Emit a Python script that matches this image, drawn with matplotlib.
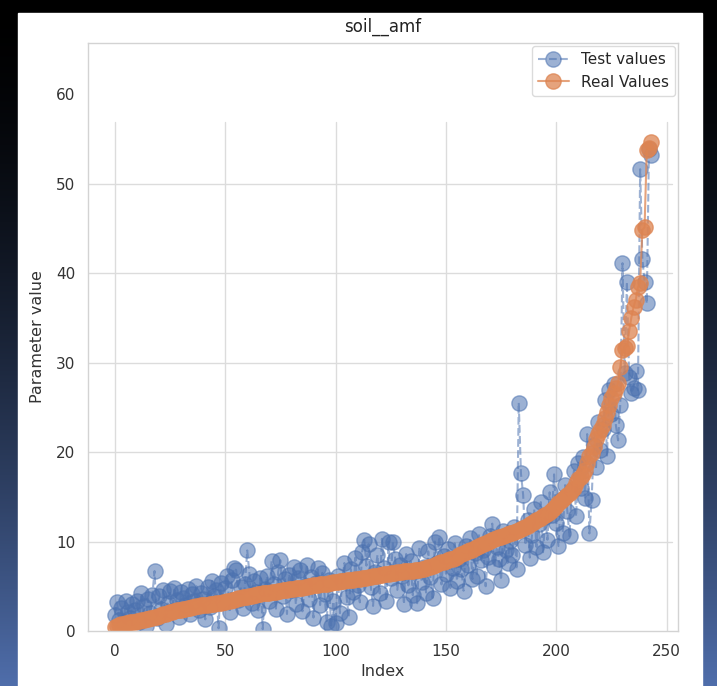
# График сравнения тестовых и реальных значений параметра soil__amf

import numpy as np
import matplotlib.pyplot as plt
import seaborn as sns

# реальные значения параметра (отсортированы по возрастанию)
real_values = [
    0.5, 0.6, 0.7, 0.75, 0.8, 0.85, 0.9, 0.95, 1.0, 1.05,
    1.1, 1.15, 1.2, 1.25, 1.3, 1.35, 1.4, 1.5, 1.55, 1.6,
    1.7, 1.8, 1.9, 1.95, 2.0, 2.1, 2.15, 2.2, 2.3, 2.35,
    2.4, 2.45, 2.5, 2.55, 2.6, 2.65, 2.7, 2.75, 2.8, 2.85,
    2.9, 2.9, 2.95, 3.0, 3.0, 3.05, 3.1, 3.1, 3.15, 3.2,
    3.25, 3.3, 3.4, 3.45, 3.5, 3.6, 3.65, 3.7, 3.75, 3.8,
    3.85, 3.9, 3.95, 4.0, 4.05, 4.1, 4.15, 4.2, 4.2, 4.25,
    4.3, 4.35, 4.4, 4.4, 4.45, 4.5, 4.55, 4.6, 4.6, 4.65,
    4.7, 4.7, 4.75, 4.8, 4.8, 4.85, 4.9, 4.95, 5.0, 5.05,
    5.1, 5.1, 5.15, 5.2, 5.2, 5.25, 5.3, 5.35, 5.4, 5.45,
    5.5, 5.5, 5.55, 5.6, 5.6, 5.65, 5.7, 5.7, 5.75, 5.8,
    5.8, 5.85, 5.9, 5.9, 5.95, 6.0, 6.05, 6.1, 6.15, 6.2,
    6.25, 6.3, 6.35, 6.4, 6.4, 6.45, 6.5, 6.5, 6.55, 6.6,
    6.6, 6.65, 6.65, 6.7, 6.7, 6.75, 6.8, 6.8, 6.85, 6.9,
    6.9, 7.0, 7.1, 7.2, 7.3, 7.4, 7.5, 7.6, 7.7, 7.75,
    7.8, 7.9, 8.0, 8.1, 8.2, 8.3, 8.45, 8.6, 8.7, 8.8,
    8.9, 9.0, 9.1, 9.25, 9.4, 9.5, 9.6, 9.75, 9.85, 9.95,
    10.05, 10.15, 10.25, 10.35, 10.45, 10.55, 10.65, 10.75, 10.85, 10.95,
    11.0, 11.1, 11.2, 11.3, 11.4, 11.5, 11.6, 11.75, 11.9, 12.05,
    12.2, 12.35, 12.5, 12.65, 12.8, 12.95, 13.1, 13.3, 13.5, 13.7,
    14.0, 14.3, 14.5, 14.8, 15.0, 15.2, 15.4, 15.7, 16.0, 16.5,
    17.0, 17.2, 17.5, 18.0, 18.8, 19.5, 19.9, 20.6, 21.4, 22.0,
    22.5, 23.0, 23.8, 24.5, 25.2, 26.0, 26.6, 27.2, 27.7, 29.5,
    31.4, 31.6, 31.8, 33.5, 35.0, 36.2, 37.0, 38.4, 38.9, 44.8,
    45.1, 53.7, 54.0, 54.6,
]

# предсказанные (тестовые) значения в том же порядке
test_values = [
    1.8, 3.2, 1.2, 2.6, 0.9, 3.4, 2.1, 1.5, 3.0, 2.4,
    3.3, 1.0, 4.2, 2.8, 0.6, 3.6, 2.0, 4.0, 6.7, 1.4,
    3.9, 2.5, 4.6, 0.8, 3.1, 4.5, 2.2, 4.8, 3.5, 1.6,
    4.4, 3.7, 2.9, 4.7, 1.9, 4.1, 3.4, 5.0, 2.4, 4.3,
    3.6, 1.3, 4.9, 2.7, 5.6, 3.9, 4.6, 0.3, 5.4, 3.2,
    4.8, 6.2, 2.1, 5.7, 7.0, 6.8, 3.5, 4.9, 2.6, 5.3,
    9.0, 6.4, 3.1, 5.6, 4.4, 2.3, 5.9, 0.2, 4.7, 6.1,
    3.4, 7.8, 5.2, 2.5, 6.6, 7.9, 3.9, 5.8, 1.9, 6.3,
    4.6, 7.1, 3.0, 5.9, 6.8, 2.2, 5.0, 7.4, 3.6, 6.0,
    1.5, 5.4, 7.0, 2.9, 6.5, 4.1, 1.0, 5.7, 0.6, 3.3,
    0.9, 6.2, 2.0, 5.6, 7.6, 3.8, 1.6, 6.9, 4.4, 8.2,
    5.1, 3.2, 8.8, 10.2, 7.3, 9.7, 4.9, 2.8, 6.6, 8.5,
    4.2, 10.3, 7.0, 3.4, 10.0, 5.9, 9.9, 8.1, 4.6, 7.4,
    6.2, 3.0, 8.6, 5.1, 7.8, 4.0, 6.7, 3.1, 9.3, 5.5,
    7.2, 4.3, 8.9, 6.0, 3.7, 10.0, 7.6, 10.5, 5.2, 8.4,
    6.4, 9.2, 4.8, 7.0, 9.8, 5.6, 8.0, 6.9, 4.5, 9.5,
    7.4, 10.4, 5.8, 8.7, 6.2, 10.8, 7.9, 9.1, 5.0, 8.3,
    10.6, 12.0, 7.2, 9.4, 8.0, 5.7, 11.2, 9.0, 7.6, 10.1,
    8.5, 11.6, 6.9, 25.5, 17.6, 15.2, 9.6, 12.4, 8.2, 10.7,
    13.6, 9.4, 11.9, 14.4, 8.8, 12.7, 10.2, 15.5, 13.0, 17.5,
    12.1, 9.5, 14.6, 11.0, 16.3, 13.4, 10.6, 15.8, 17.9, 12.8,
    18.8, 16.0, 19.4, 14.9, 22.0, 10.9, 14.6, 20.8, 18.3, 23.4,
    20.2, 22.6, 25.8, 19.6, 26.9, 24.2, 27.6, 23.0, 21.3, 25.3,
    41.1, 28.8, 39.0, 28.4, 26.6, 27.2, 29.0, 26.9, 51.6, 41.6,
    39.0, 36.6, 53.9, 53.2,
]

index = np.arange(len(real_values))

sns.set_style('whitegrid')
plt.rcParams['font.family'] = ['DejaVu Sans']

fig = plt.figure(figsize=(7.17, 6.86), dpi=100)

# тёмный градиентный фон вокруг рисунка
bg = fig.add_axes([0, 0, 1, 1], zorder=-10)
t = np.linspace(0, 1, 256) ** 1.6
top = np.array([0.0, 0.0, 0.0])
bottom = np.array([0.31, 0.43, 0.67])
grad = (top[None, :] * (1 - t[:, None]) + bottom[None, :] * t[:, None])[:, None, :]
bg.imshow(grad, aspect='auto', extent=[0, 1, 0, 1])
bg.axis('off')

# белая подложка под график
fig.patches.append(plt.Rectangle((18 / 717, 0), 684 / 717, 673 / 686,
                                 transform=fig.transFigure, color='white', zorder=-5))

ax = fig.add_axes([88 / 717, 55 / 686, 590 / 717, 588 / 686])
ax.set_facecolor('white')

ax.plot(index, test_values, '--o', color='#4C72B0', alpha=0.55, markersize=11,
        linewidth=1.5, label='Test values')
ax.plot(index, real_values, '-o', color='#DD8452', alpha=0.75, markersize=11,
        linewidth=1.5, label='Real Values')

ax.set_ylim(0, 65.7)
ax.set_xticks(range(0, 251, 50))
ax.set_yticks(range(0, 61, 10))

# сетка
ax.grid(False)
for xt in range(0, 251, 50):
    ax.axvline(xt, ymax=0.866, color='#dcdcdc', linewidth=1, zorder=0.5)
for yt in range(10, 51, 10):
    ax.axhline(yt, xmax=0.99, color='#dcdcdc', linewidth=1, zorder=0.5)

for s in ax.spines.values():
    s.set_color('#d3d3d3')
    s.set_linewidth(1)

ax.tick_params(labelsize=11, pad=9, colors='#333333', length=0)
ax.set_xlabel('Index', fontsize=11.5, color='#333333')
ax.set_ylabel('Parameter value', fontsize=11.5, color='#333333', labelpad=8)
ax.set_title('soil__amf', fontsize=12, color='#222222', pad=8)
ax.legend(loc='upper right', fontsize=11, borderaxespad=0.2, edgecolor='#d3d3d3')

plt.savefig('out.png', dpi=100)
